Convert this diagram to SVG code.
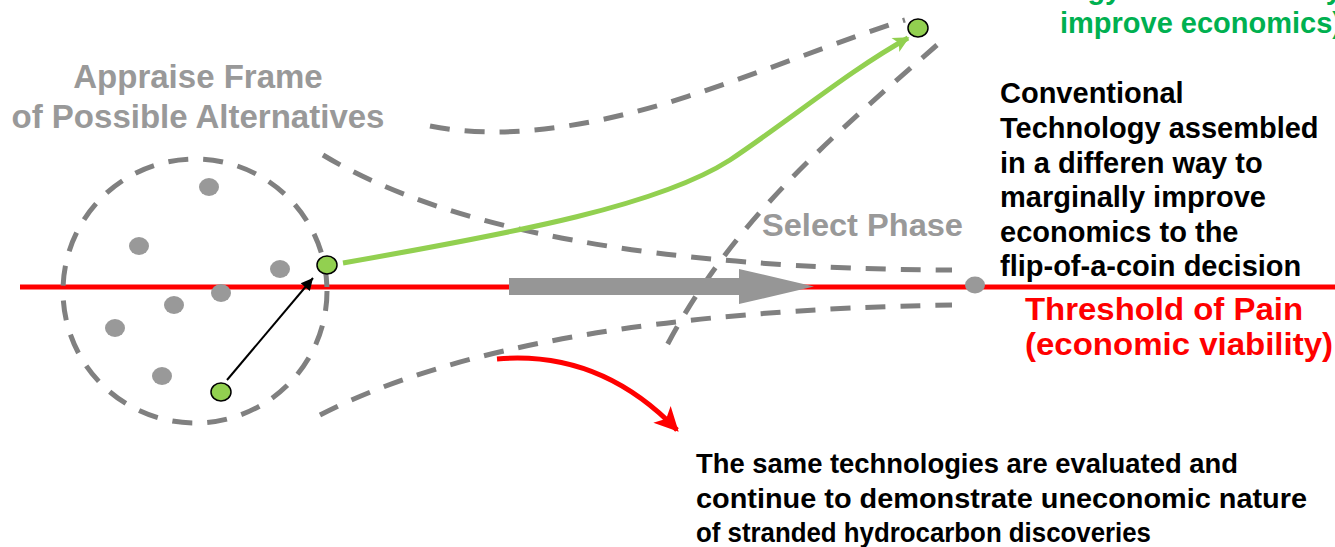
<svg xmlns="http://www.w3.org/2000/svg" width="1335" height="547" viewBox="0 0 1335 547">
  <style>
    .dash { fill: none; stroke: #808080; stroke-width: 5; stroke-dasharray: 20 15; }
    .dot { fill: #999999; }
    .pick { fill: #92D050; stroke: #000000; stroke-width: 1.5; }
    .t { font-family: "Liberation Sans", Arial, sans-serif; font-weight: bold; }
    .grey { fill: #999999; }
    .black { fill: #000000; }
    .red { fill: #FF0000; }
    .green { fill: #00B050; }
  </style>
  <defs>
    <marker id="headGreen" viewBox="0 0 10 10" refX="9" refY="5" markerWidth="20" markerHeight="16" markerUnits="userSpaceOnUse" orient="auto">
      <path d="M0,0 L10,5 L0,10 L2.5,5 z" fill="#92D050"/>
    </marker>
    <marker id="headRed" viewBox="0 0 10 10" refX="9" refY="5" markerWidth="28" markerHeight="24" markerUnits="userSpaceOnUse" orient="auto">
      <path d="M0,0 L10,5 L0,10 L2.5,5 z" fill="#FF0000"/>
    </marker>
    <marker id="headBlack" viewBox="0 0 10 10" refX="10" refY="5" markerWidth="14" markerHeight="12" markerUnits="userSpaceOnUse" orient="auto">
      <path d="M0,0 L10,5 L0,10 z" fill="#000000"/>
    </marker>
  </defs>

  <!-- threshold line -->
  <line x1="20" y1="287" x2="1335" y2="287" stroke="#FF0000" stroke-width="5"/>

  <!-- frame of alternatives and funnel outlines -->
  <g id="frame">
    <circle class="dash" cx="195" cy="291" r="132"/>
    <path class="dash" d="M430,126 C500,140 580,128 660,105 C750,78 840,40 905,20"/>
    <path class="dash" d="M937,45 C840,130 730,220 662,355"/>
    <path class="dash" d="M323,155 Q510,268 952,270"/>
    <path class="dash" d="M320,415 Q520,312 952,305"/>
  </g>

  <!-- candidate options -->
  <g id="options">
    <ellipse class="dot" cx="209" cy="187" rx="10" ry="9"/>
    <ellipse class="dot" cx="139" cy="246" rx="10" ry="9"/>
    <ellipse class="dot" cx="280" cy="269" rx="10" ry="9"/>
    <ellipse class="dot" cx="221" cy="293" rx="10" ry="9"/>
    <ellipse class="dot" cx="174" cy="305" rx="10" ry="9"/>
    <ellipse class="dot" cx="115" cy="328" rx="10" ry="9"/>
    <ellipse class="dot" cx="162" cy="376" rx="10" ry="9"/>
  </g>

  <!-- select phase arrow -->
  <g id="select-arrow">
    <polygon points="509,278 739,278 739,269 814,286.5 739,304 739,295 509,295" fill="#969696"/>
  </g>

  <!-- connectors -->
  <g id="connectors">
    <line x1="227" y1="380" x2="313" y2="278" stroke="#000000" stroke-width="2" marker-end="url(#headBlack)"/>
    <path d="M343,263 C520,232 660,205 730,160 C790,120 850,70 908,38" fill="none" stroke="#92D050" stroke-width="5" marker-end="url(#headGreen)"/>
    <path d="M497,359 Q600,350 677,430" fill="none" stroke="#FF0000" stroke-width="5" marker-end="url(#headRed)"/>
  </g>

  <g id="node-start"><ellipse class="pick" cx="221" cy="392" rx="10" ry="9"/></g>
  <g id="node-frame-edge"><ellipse class="pick" cx="327" cy="265" rx="10" ry="9"/></g>
  <g id="node-new-tech"><ellipse class="pick" cx="918" cy="28" rx="10" ry="9"/></g>
  <g id="node-threshold"><ellipse class="dot" cx="975" cy="285" rx="10" ry="8.5"/></g>

  <!-- labels -->
  <g id="label-appraise" class="t grey" font-size="33" text-anchor="middle">
    <text x="198" y="88">Appraise Frame</text>
    <text x="198" y="128">of Possible Alternatives</text>
  </g>
  <g id="label-select" class="t grey" font-size="31">
    <text x="762" y="236" textLength="201" lengthAdjust="spacingAndGlyphs">Select Phase</text>
  </g>
  <g id="label-new-tech" class="t green" font-size="29" text-anchor="end">
    <text x="1342" y="-1">technology to substantially</text>
    <text x="1342" y="33">improve economics)</text>
  </g>
  <g id="label-conventional" class="t black" font-size="29">
    <text x="1000" y="103">Conventional</text>
    <text x="1000" y="138">Technology assembled</text>
    <text x="1000" y="172.5">in a differen way to</text>
    <text x="1000" y="207">marginally improve</text>
    <text x="1000" y="242">economics to the</text>
    <text x="1000" y="276">flip-of-a-coin decision</text>
  </g>
  <g id="label-threshold" class="t red" font-size="31">
    <text x="1025" y="320" textLength="278" lengthAdjust="spacingAndGlyphs">Threshold of Pain</text>
    <text x="1025" y="355" textLength="308" lengthAdjust="spacingAndGlyphs">(economic viability)</text>
  </g>
  <g id="label-same-tech" class="t black" font-size="28.5">
    <text x="696" y="473" textLength="542" lengthAdjust="spacingAndGlyphs">The same technologies are evaluated and</text>
    <text x="696" y="508" textLength="611" lengthAdjust="spacingAndGlyphs">continue to demonstrate uneconomic nature</text>
    <text x="696" y="542" textLength="455" lengthAdjust="spacingAndGlyphs">of stranded hydrocarbon discoveries</text>
  </g>
</svg>
